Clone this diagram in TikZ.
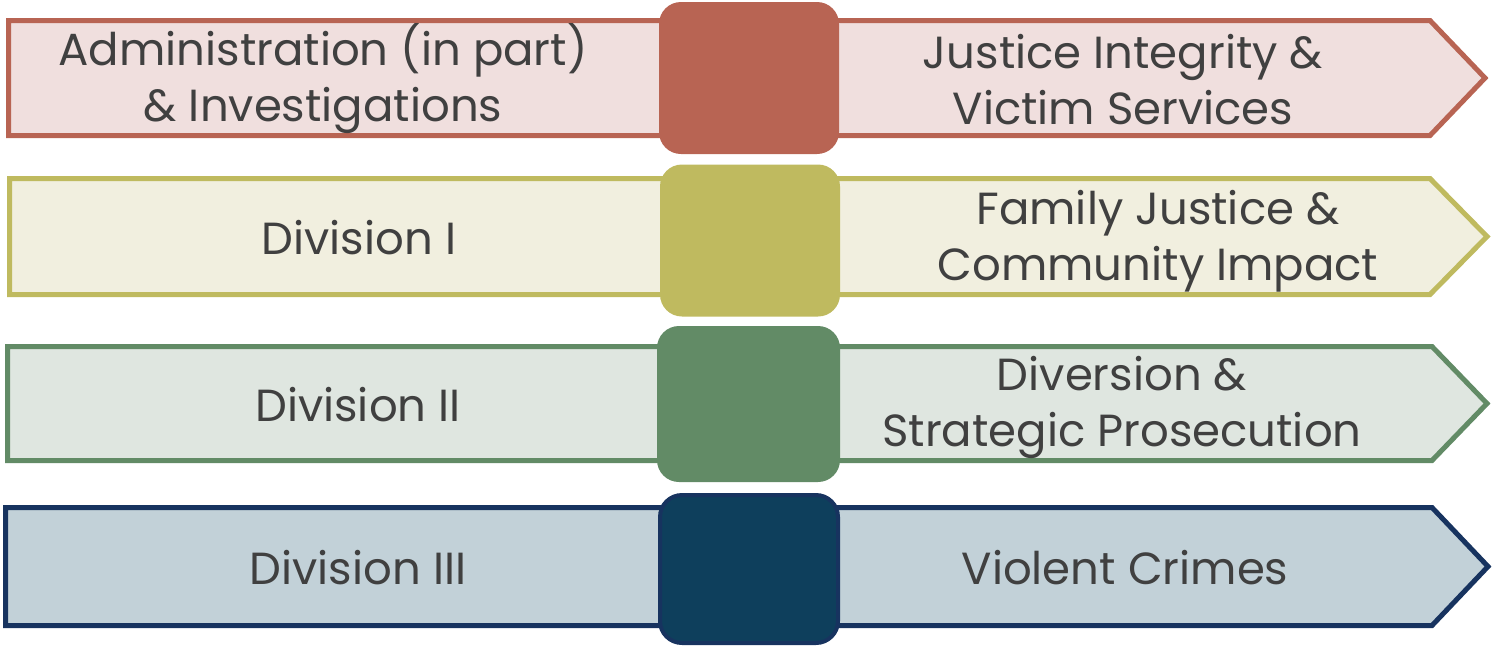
\documentclass[tikz,border=0pt]{standalone}
\usepackage{fontspec}
\setmainfont{Poppins}
\definecolor{redline}{HTML}{B86453}
\definecolor{redfill}{HTML}{F0DFDE}
\definecolor{oliveline}{HTML}{BFBA5F}
\definecolor{olivefill}{HTML}{F1EFDF}
\definecolor{greenline}{HTML}{628B66}
\definecolor{greenfill}{HTML}{DFE6E0}
\definecolor{navyline}{HTML}{17335F}
\definecolor{navyfill}{HTML}{C2D1D8}
\definecolor{navybox}{HTML}{0E3F5C}
\definecolor{inkgray}{HTML}{404040}
\begin{document}
\begin{tikzpicture}[x=1pt,y=-1pt,
    band/.style={line width=5pt, line join=miter},
    hub/.style={rounded corners=22pt, minimum width=180pt, minimum height=152pt, inner sep=0pt},
    txt/.style={text=inkgray, align=center, inner sep=0pt,
      font=\fontsize{45pt}{56pt}\selectfont}]
  \useasboundingbox (0,0) rectangle (1493,646);
  % bands
  \draw[band, draw=redline, fill=redfill]
    (8.5,20.5) -- (1430,20.5) -- (1485,78) -- (1430,135.5) -- (8.5,135.5) -- cycle;
  \draw[band, draw=oliveline, fill=olivefill]
    (9.5,178.5) -- (1430,178.5) -- (1487,236.5) -- (1430,294.5) -- (9.5,294.5) -- cycle;
  \draw[band, draw=greenline, fill=greenfill]
    (7.5,346.5) -- (1432,346.5) -- (1487,403.5) -- (1432,460.5) -- (7.5,460.5) -- cycle;
  \draw[band, draw=navyline, fill=navyfill]
    (5.5,507.5) -- (1432,507.5) -- (1488,566.5) -- (1432,625.5) -- (5.5,625.5) -- cycle;
  % hubs
  \node[hub, fill=redline] (hubA) at (749,78) {};
  \node[hub, fill=oliveline] (hubB) at (750,240.5) {};
  \node[hub, fill=greenline, minimum width=183pt, minimum height=156pt] (hubC) at (748.5,404) {};
  \node[hub, fill=navybox, draw=navyline, line width=4pt, minimum width=178pt, minimum height=148pt] (hubD) at (749,569) {};
  % texts
  \node[txt] (admin) at (323,79) {Administration (in part)\\\& Investigations};
  \node[txt] (justice) at (1123,80) {Justice Integrity \&\\Victim Services};
  \node[txt] (divI) at (359,238) {Division I};
  \node[txt] (family) at (1158,241) {Family Justice \&\\Community Impact};
  \node[txt] (divII) at (358,405) {Division II};
  \node[txt] (diversion) at (1122,407) {Diversion \&\\Strategic Prosecution};
  \node[txt] (divIII) at (358,568) {Division III};
  \node[txt] (violent) at (1125,568) {Violent Crimes};
\end{tikzpicture}
\end{document}
